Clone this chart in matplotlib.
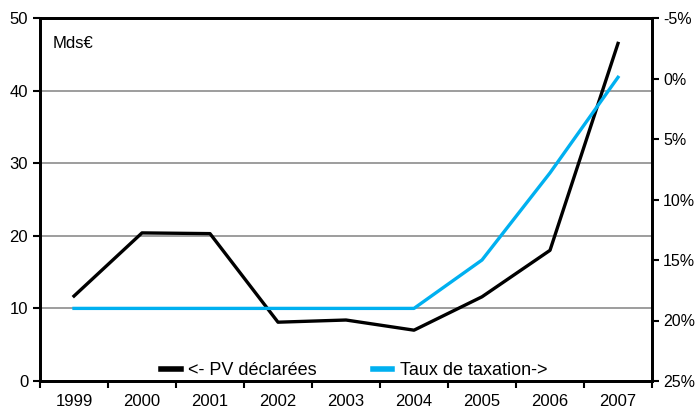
import matplotlib.pyplot as plt
from matplotlib.ticker import FuncFormatter

plt.rc('font', family=['Liberation Sans', 'DejaVu Sans'], size=12)

years = ['1999', '2000', '2001', '2002', '2003', '2004', '2005', '2006', '2007']
pv_declarees = [11.7, 20.4, 20.3, 8.1, 8.4, 7.0, 11.6, 18.0, 46.5]
taux_taxation = [19.0, 19.0, 19.0, 19.0, 19.0, 19.0, 15.0, 7.8, -0.1]

fig = plt.figure(figsize=(6.96, 4.12), dpi=100)
ax = fig.add_axes([40/696, 1-381/412, 612/696, 363/412])
ax2 = ax.twinx()

x = list(range(len(years)))

ax.set_xlim(-0.5, len(years)-0.5)
ax.set_ylim(0, 50)
ax.set_yticks([0, 10, 20, 30, 40, 50])
for y in [10, 20, 30, 40]:
    ax.axhline(y, color='#8c8c8c', lw=1.2, zorder=0)

l1, = ax.plot(x, pv_declarees, color='black', lw=2.4, zorder=3)
l2, = ax2.plot(x, taux_taxation, color='#00b0f0', lw=2.4, zorder=3)

ax2.set_ylim(25, -5)
ax2.set_yticks([-5, 0, 5, 10, 15, 20, 25])
ax2.yaxis.set_major_formatter(FuncFormatter(lambda v, p: '%d%%' % v))

ax.set_xticks([i - 0.5 for i in range(len(years)+1)])
ax.set_xticklabels([])
ax.set_xticks(x, minor=True)
ax.set_xticklabels(years, minor=True)
ax.tick_params(axis='x', which='minor', length=0, pad=9)
ax.tick_params(axis='x', which='major', length=5, width=1.5, direction='out')
ax.tick_params(axis='y', length=5, width=1.5, direction='out')
ax2.tick_params(axis='y', length=5, width=1.5, direction='out', pad=3,
                labelsize=11.5)

for a in (ax, ax2):
    for s in a.spines.values():
        s.set_linewidth(2)
        s.set_color('black')

ax.text(0.02, 0.95, 'Mds€', transform=ax.transAxes, va='top', ha='left')

leg = ax.legend([l1, l2], ['<- PV déclarées', 'Taux de taxation->'], ncol=2,
                frameon=False, loc='lower center', bbox_to_anchor=(0.513, -0.04),
                fontsize=13, handlelength=1.1, handletextpad=0.4,
                columnspacing=3.1)
for h in leg.legend_handles:
    h.set_linewidth(4)

fig.savefig('out.png', dpi=100)
